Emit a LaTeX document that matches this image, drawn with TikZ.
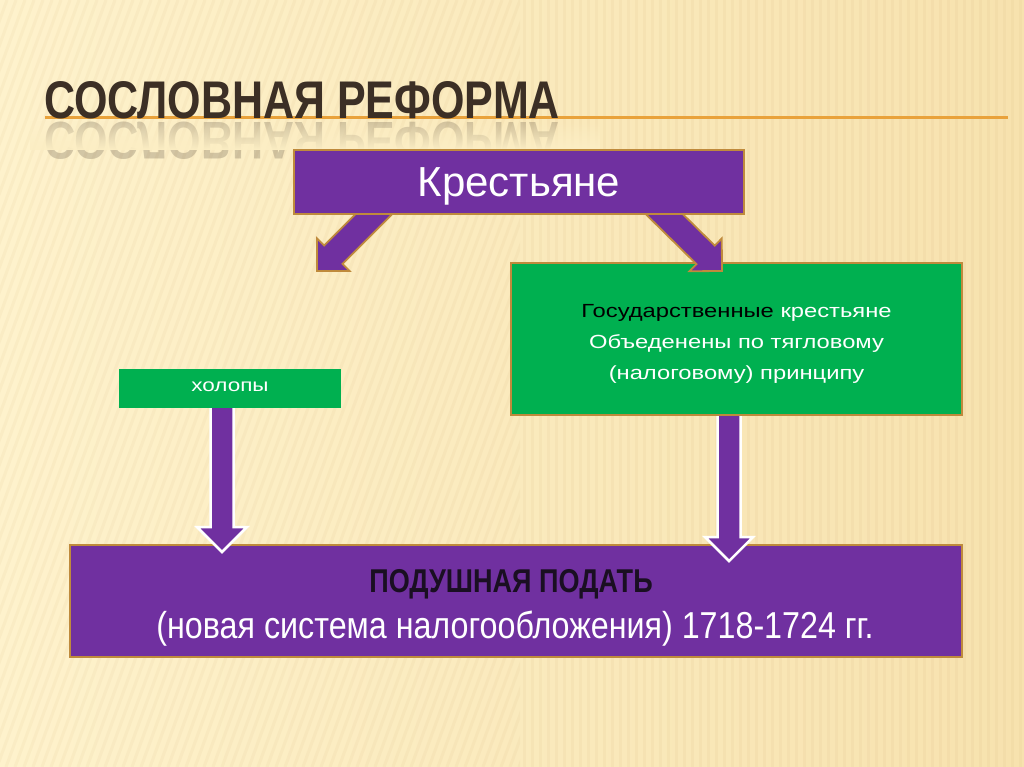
\documentclass[tikz,border=0pt]{standalone}
\usepackage{fontspec}
\setmainfont{Liberation Sans}
\newfontfamily\condfont[FakeStretch=0.82]{Liberation Sans}
\newfontfamily\condB[FakeStretch=0.86]{Liberation Sans}
\newfontfamily\titlefont[FakeStretch=0.812]{Liberation Sans}
\newfontfamily\widefont[FakeStretch=1.25]{Liberation Sans}
\usetikzlibrary{calc,fadings}
\definecolor{bgL}{HTML}{FEF2CC}
\definecolor{bgR}{HTML}{F7E2AE}
\definecolor{bgM}{HTML}{FCEEC4}
\definecolor{pur}{HTML}{7030A0}
\definecolor{grn}{HTML}{00B050}
\definecolor{brd}{HTML}{BF8A3C}
\definecolor{ttl}{HTML}{3C2F25}
\definecolor{oline}{HTML}{E9A23B}
\definecolor{dark}{HTML}{1A0F22}
\definecolor{strp}{HTML}{B08040}
\tikzfading[name=reflfade, top color=transparent!100, bottom color=transparent!0]
\pgfdeclarelayer{background}
\pgfdeclarelayer{lowbox}
\pgfdeclarelayer{varrow}
\pgfdeclarelayer{darrow}
\pgfdeclarelayer{topbox}
\pgfsetlayers{background,lowbox,varrow,main,darrow,topbox}
\newcommand\blockarrow[6]{%
  \draw[#1] let \p1=(#2), \p2=(#3), \n1={atan2(\y2-\y1,\x2-\x1)} in
    (\p2)
    -- ($(\p2)+({\n1+180}:#6pt)+({\n1+90}:#5pt)$)
    -- ($(\p2)+({\n1+180}:#6pt)+({\n1+90}:#4pt)$)
    -- ($(\p1)+({\n1+90}:#4pt)$)
    -- ($(\p1)+({\n1-90}:#4pt)$)
    -- ($(\p2)+({\n1+180}:#6pt)+({\n1-90}:#4pt)$)
    -- ($(\p2)+({\n1+180}:#6pt)+({\n1-90}:#5pt)$)
    -- cycle;}
\begin{document}
\begin{tikzpicture}[x=1pt,y=-1pt,
  every node/.style={inner sep=0pt, outer sep=0pt},
  titlestyle/.style={font=\titlefont\bfseries\fontsize{53}{60}\selectfont, text=ttl},
  pbox/.style={draw=brd, line width=2.5pt, fill=pur, text=white},
  gbox/.style={draw=brd, line width=2.5pt, fill=grn, text=white},
  hbox/.style={fill=grn, text=white},
  stripe/.style={strp, line width=3pt, opacity=0.05},
  darr/.style={draw=brd, line width=1.8pt, fill=pur, line join=miter},
  varr/.style={draw=white, line width=2.5pt, fill=pur, line join=miter}]
\useasboundingbox (0,0) rectangle (1024,767);
\begin{pgfonlayer}{background}
  \fill[left color=bgL, right color=bgR] (0,0) rectangle (1024,767);
  \begin{scope}
    \clip (0,0) rectangle (520,767);
    \foreach \i in {-300,-291,...,520} \draw[stripe] (\i,767) -- ++(280,-767);
  \end{scope}
  \foreach \i in {524,532,...,1024} \draw[stripe] (\i,0) -- (\i,767);
  \draw[oline, line width=3pt] (45,117.5) coordinate (ls) -- (1008,117.5) coordinate (le);
  \node[titlestyle, anchor=base west] (title) at (44,119) {СОСЛОВНАЯ РЕФОРМА};
  \node[titlestyle, anchor=base west, transform shape, yscale=-1, opacity=0.22] (refl) at (44,123) {СОСЛОВНАЯ РЕФОРМА};
  \fill[bgM, path fading=reflfade] (30,121) rectangle (600,150);
\end{pgfonlayer}
\begin{pgfonlayer}{lowbox}
  \node[pbox, minimum width=892pt, minimum height=112pt] (bot) at (516,601) {};
  \node[anchor=base, font=\condfont\bfseries\fontsize{33}{36}\selectfont, text=dark] (botl1) at (511,592) {ПОДУШНАЯ ПОДАТЬ};
  \node[anchor=base, font=\condB\fontsize{37.5}{40}\selectfont, text=white] (botl2) at (515,638) {(новая система налогообложения) 1718-1724 гг.};
\end{pgfonlayer}
\node[gbox, minimum width=451pt, minimum height=152pt, align=center, font=\widefont\fontsize{19}{31}\selectfont] (gs) at (736.5,339) {\rule{0pt}{22pt}\textcolor{black}{Государственные} крестьяне\\Объеденены по тягловому\\(налоговому) принципу};
\node[hbox, minimum width=222pt, minimum height=39pt, font=\widefont\fontsize{18}{24}\selectfont, text height=6pt, text depth=0pt] (hol) at (230,388) {холопы};
\coordinate (vLt) at (222,552);
\coordinate (vRt) at (729,561);
\begin{pgfonlayer}{varrow}
  \blockarrow{varr}{$(hol.south)+(-8,-6)$}{vLt}{11.5}{25}{25}
  \blockarrow{varr}{$(gs.south)+(-7.5,-6)$}{vRt}{11.5}{24}{24}
\end{pgfonlayer}
\begin{pgfonlayer}{topbox}
  \node[pbox, minimum width=450pt, minimum height=64pt, font=\fontsize{42}{48}\selectfont, text height=30pt, text depth=0pt] (kr) at (519,182) {Крестьяне};
\end{pgfonlayer}
\coordinate (dLt) at (317,271);
\coordinate (dRt) at (722,271);
\begin{pgfonlayer}{darrow}
  \blockarrow{darr}{$(kr.south)+(-137,-8)$}{dLt}{13}{23}{23}
  \blockarrow{darr}{$(kr.south)+(137,-8)$}{dRt}{13}{23}{23}
\end{pgfonlayer}
\end{tikzpicture}
\end{document}
